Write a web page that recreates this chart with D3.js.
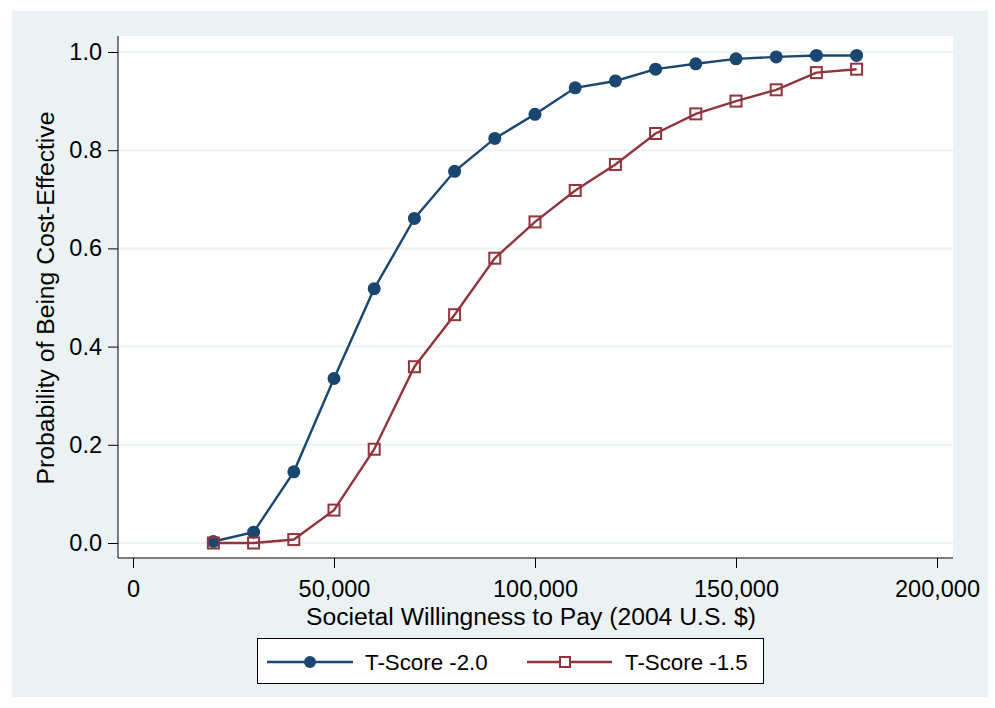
<!DOCTYPE html>
<html>
<head>
<meta charset="utf-8">
<script src="https://cdn.jsdelivr.net/npm/d3@7"></script>
<style>
  body { margin: 0; background: #fff; }
  svg text { font-family: "Liberation Sans", Arial, Helvetica, sans-serif; fill: #000; }
</style>
</head>
<body>
<svg id="chart"></svg>
<script>
// willingness to pay (2004 U.S. $)
const wtp = [20000, 30000, 40000, 50000, 60000, 70000, 80000, 90000, 100000,
             110000, 120000, 130000, 140000, 150000, 160000, 170000, 180000];
const tScore20 = [0.003, 0.022, 0.145, 0.335, 0.518, 0.661, 0.757, 0.824, 0.873,
                  0.927, 0.941, 0.965, 0.976, 0.986, 0.990, 0.993, 0.993];
const tScore15 = [0.000, 0.000, 0.007, 0.067, 0.191, 0.359, 0.465, 0.580, 0.654,
                  0.718, 0.771, 0.834, 0.874, 0.900, 0.923, 0.958, 0.965];
const xTicks = [0, 50000, 100000, 150000, 200000];
const yTicks = [0, 0.2, 0.4, 0.6, 0.8, 1.0];
const seriesNames = ["T-Score -2.0", "T-Score -1.5"];

const W = 995, H = 708;
const blue = "#1a476f", red = "#90353b", bg = "#eaf2f3";

const svg = d3.select("#chart").attr("width", W).attr("height", H);

// outer panel
svg.append("rect").attr("x", 12).attr("y", 11).attr("width", 976).attr("height", 686)
  .attr("fill", bg);

// plot region
const plot = { left: 118, right: 953, top: 36, bottom: 558 };
svg.append("rect").attr("x", plot.left).attr("y", plot.top)
  .attr("width", plot.right - plot.left).attr("height", plot.bottom - plot.top)
  .attr("fill", "#fff");

const x = d3.scaleLinear().domain([0, 200000]).range([133, 937]);
const y = d3.scaleLinear().domain([0, 1]).range([543, 52]);

// grid
svg.append("g").selectAll("line").data(yTicks).join("line")
  .attr("x1", plot.left).attr("x2", plot.right)
  .attr("y1", d => y(d)).attr("y2", d => y(d))
  .attr("stroke", bg).attr("stroke-width", 2);

// axes
const yAxis = svg.append("g").attr("transform", `translate(${plot.left},0)`)
  .call(d3.axisLeft(y).tickValues(yTicks).tickFormat(d3.format(".1f")).tickSizeOuter(0).tickSize(10).tickPadding(6));
yAxis.select(".domain").attr("d", `M0,${plot.top}V${plot.bottom}`).attr("stroke", "#000");
yAxis.selectAll("text").style("font-size", "23.5px");

const xAxis = svg.append("g").attr("transform", `translate(0,${plot.bottom})`)
  .call(d3.axisBottom(x).tickValues(xTicks).tickFormat(d3.format(",")).tickSizeOuter(0).tickSize(10).tickPadding(12));
xAxis.select(".domain").attr("d", `M${plot.left},0H${plot.right}`).attr("stroke", "#000");
xAxis.selectAll("text").style("font-size", "23.5px");

// axis titles
svg.append("text").attr("x", 531).attr("y", 625).attr("text-anchor", "middle")
  .style("font-size", "24.7px").text("Societal Willingness to Pay (2004 U.S. $)");
svg.append("text").attr("transform", "translate(54,298) rotate(-90)").attr("text-anchor", "middle")
  .style("font-size", "24.7px").text("Probability of Being Cost-Effective");

// lines
const line = d3.line().x((d, i) => x(wtp[i])).y(d => y(d));
svg.append("path").datum(tScore20).attr("d", line)
  .attr("fill", "none").attr("stroke", blue).attr("stroke-width", 2.4);
svg.append("path").datum(tScore15).attr("d", line)
  .attr("fill", "none").attr("stroke", red).attr("stroke-width", 2.4);

// markers
svg.append("g").selectAll("circle").data(tScore20).join("circle")
  .attr("cx", (d, i) => x(wtp[i])).attr("cy", d => y(d)).attr("r", 6.5)
  .attr("fill", blue);
svg.append("g").selectAll("rect").data(tScore15).join("rect")
  .attr("x", (d, i) => x(wtp[i]) - 5.5).attr("y", d => y(d) - 5.5)
  .attr("width", 11).attr("height", 11)
  .attr("fill", "none").attr("stroke", red).attr("stroke-width", 2);

// legend
const lg = svg.append("g");
lg.append("rect").attr("x", 257.5).attr("y", 638.5).attr("width", 506).attr("height", 45)
  .attr("fill", "#fff").attr("stroke", "#000").attr("stroke-width", 1);
const ly = 662;
lg.append("line").attr("x1", 267).attr("x2", 353).attr("y1", ly).attr("y2", ly)
  .attr("stroke", blue).attr("stroke-width", 2.4);
lg.append("circle").attr("cx", 310).attr("cy", ly).attr("r", 6).attr("fill", blue);
lg.append("text").attr("x", 365).attr("y", ly + 8).style("font-size", "22.3px").text(seriesNames[0]);
lg.append("line").attr("x1", 527).attr("x2", 612).attr("y1", ly).attr("y2", ly)
  .attr("stroke", red).attr("stroke-width", 2.4);
lg.append("rect").attr("x", 565 - 5).attr("y", ly - 5).attr("width", 10).attr("height", 10)
  .attr("fill", "#fff").attr("stroke", red).attr("stroke-width", 2);
lg.append("text").attr("x", 625).attr("y", ly + 8).style("font-size", "22.3px").text(seriesNames[1]);
</script>
</body>
</html>
